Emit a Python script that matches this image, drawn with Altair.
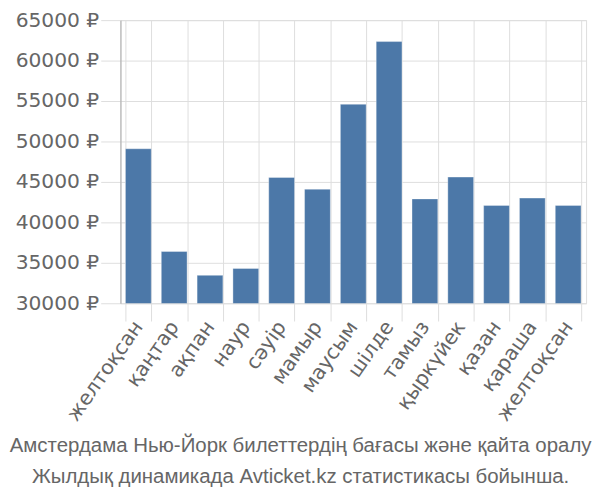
import altair as alt
import pandas as pd

months = ["желтоқсан", "қаңтар", "ақпан", "наур", "сәуір", "мамыр", "маусым",
          "шілде", "тамыз", "қыркүйек", "қазан", "қараша", "желтоқсан"]
prices = [49100, 36400, 33450, 34300, 45550, 44100, 54600,
          62350, 42900, 45600, 42100, 43000, 42100]
y_ticks = [30000, 35000, 40000, 45000, 50000, 55000, 60000, 65000]
title_lines = ["Амстердама Нью-Йорк билеттердің бағасы және қайта оралу",
               "Жылдық динамикада Avticket.kz статистикасы бойынша."]

df = pd.DataFrame({"idx": list(range(len(months))), "month": months, "price": prices})
label_expr = "[" + ",".join("'" + m + "'" for m in months) + "][datum.value]"

AXFONT = "DejaVu Sans"

chart = alt.Chart(df).mark_bar(
    color="#4c78a8", stroke="#ffffff", strokeOpacity=0.35, strokeWidth=1, clip=True
).encode(
    x=alt.X("idx:O", title=None,
            scale=alt.Scale(paddingInner=0.28, paddingOuter=0.14),
            axis=alt.Axis(labelExpr=label_expr, labelAngle=-55, labelFontSize=20.5,
                          labelColor="#666666", labelFont=AXFONT, tickBand="extent",
                          tickSize=18, tickColor="#dddddd", gridColor="#dddddd",
                          grid=True, domain=False, labelPadding=2)),
    y=alt.Y("price:Q", title=None,
            scale=alt.Scale(domain=[30000, 65000], nice=False, zero=False),
            axis=alt.Axis(values=y_ticks, labelExpr="datum.value + ' ₽'",
                          labelFontSize=20.5, labelColor="#666666", labelFont=AXFONT,
                          tickSize=20, tickColor="#dddddd", gridColor="#dddddd",
                          domainColor="#aaaaaa", labelPadding=2)),
).properties(
    width=472, height=287,
    autosize=alt.AutoSizeParams(type="none"),
    padding={"left": 114, "top": 9, "right": 6, "bottom": 186},
    title=alt.TitleParams(text=title_lines, orient="bottom", anchor="middle",
                          frame="bounds", fontSize=20.7, font="Liberation Sans",
                          fontWeight="normal", color="#666666", lineHeight=31,
                          offset=12),
).configure_view(stroke="#dddddd")

chart.save("out.html", embed_options={"renderer": "svg", "actions": False})
